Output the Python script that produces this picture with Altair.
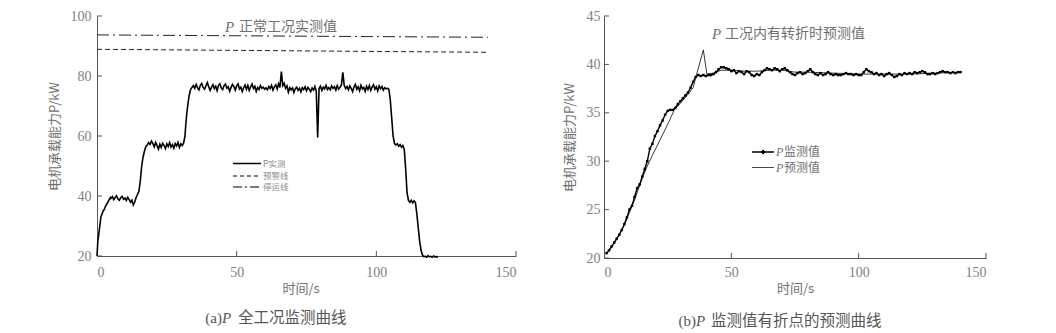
import altair as alt
import pandas as pd

# ---------------- panel (a) data ----------------
a_t_start = [0, 0.3, 0.6, 1.0, 1.4, 1.8, 2.2, 2.6, 3.0, 3.6, 4.2, 4.8]
a_p_start = [20, 25, 27, 30, 33, 34, 35, 35.5, 36.5, 37.5, 38.5, 39.5]
# t = 5.0 .. 13.0 step 0.5
a_p_lvl40 = [39.2, 39.8, 38.8, 39.5, 40.1, 39.0, 38.6, 39.4, 39.9, 38.9,
             39.3, 38.5, 39.6, 38.8, 37.9, 38.6, 37.0]
a_t_up1 = [13.5, 14.0, 14.5, 15.0, 15.5, 16.0, 16.5, 17.0, 17.5, 18.0]
a_p_up1 = [38.0, 39.5, 40.5, 41.5, 45, 50, 53, 55, 56.5, 57.0]
# t = 18.5 .. 31.0 step 0.5
a_p_lvl57 = [57.8, 57.2, 58.3, 57.5, 56.4, 57.9, 56.8, 55.6, 57.3, 56.2,
             57.6, 56.9, 55.8, 57.4, 56.5, 57.8, 56.3, 57.1, 55.9, 57.5,
             56.7, 57.9, 56.2, 57.4, 56.8, 57.6]
a_t_up2 = [31.5, 31.8, 32.2, 32.6, 33.0, 33.5, 34.0]
a_p_up2 = [60, 64, 68, 71, 73.5, 75.5, 76.2]
# t = 34.5 .. 104.0 step 0.5
a_p_lvl76 = [76.8, 75.9, 77.2, 76.1, 75.4, 76.9, 77.5, 76.2, 75.6, 76.7,
             77.8, 76.4, 75.2, 76.3, 77.1, 75.8, 76.6, 75.1, 76.9, 77.4,
             76.0, 75.5, 76.8, 77.3, 75.9, 76.4, 74.9, 76.2, 77.2, 76.5,
             75.3, 76.7, 77.4, 75.7, 76.3, 74.8, 76.1, 77.0, 75.6, 76.9,
             75.2, 76.4, 77.3, 75.8, 76.6, 74.9, 76.2, 75.5, 76.8, 75.9,
             76.3, 75.6, 76.0, 75.4, 76.5, 75.8, 76.9, 75.3, 76.4, 77.1,
             75.7, 77.4, 76.2, 81.5, 76.8, 77.6, 75.9, 76.7, 74.6, 76.1,
             75.4, 76.0, 74.5, 75.8, 76.3, 75.2, 75.9, 74.7, 76.1, 75.5,
             76.4, 75.1, 76.2, 75.6, 74.8, 76.0, 75.3, 76.5, 74.9, 59.5,
             75.8, 76.6, 75.2, 76.3, 75.7, 76.9, 75.5, 76.1, 75.4, 76.7,
             75.9, 76.4, 75.3, 76.8, 75.6, 76.2, 77.0, 81.2, 76.9, 75.8,
             76.5, 75.4, 76.7, 75.9, 74.8, 76.3, 77.2, 75.6, 76.4, 75.1,
             76.9, 75.7, 76.2, 74.9, 76.6, 75.5, 76.8, 75.2, 76.3, 77.1,
             75.6, 76.4, 75.0, 76.7, 75.8, 76.5, 75.3, 76.1, 75.7, 75.9]
# t = 104.5 .. 117.0 step 0.5
a_p_down = [75.5, 72.0, 66.0, 60.0, 57.5, 57.0, 57.4, 56.6, 57.1, 56.3,
            56.8, 55.5, 49.0, 41.0, 38.5, 37.9, 38.6, 37.7, 38.4, 37.8,
            34.0, 29.5, 25.0, 22.0, 20.3, 19.8]
# t = 117.5 .. 122.0 step 0.5
a_p_end = [19.9, 19.6, 20.1, 19.7, 19.9, 19.6, 20.0, 19.7, 19.8, 19.6]

a_line_t = [0, 140]
a_warn_p = [88.9, 87.9]   # 预警线
a_stop_p = [93.7, 92.9]   # 停运线
a_xticks = [50, 100, 150]
a_yticks = [20, 40, 60, 80, 100]

# ---------------- panel (b) data ----------------
b_mon_t = list(range(1, 141))
b_mon_p = [20.5, 20.8, 21.2, 21.6, 22.0, 22.4, 22.9, 23.5, 24.2, 25.0,
           25.4, 26.3, 27.2, 27.6, 28.4, 29.2, 30.0, 31.3, 31.8, 32.6,
           33.1, 33.7, 34.2, 34.8, 35.2, 35.3, 35.3, 35.5, 35.9, 36.2,
           36.5, 36.8, 37.1, 37.6, 38.2, 38.7, 38.9, 38.8, 38.9, 38.8,
           38.9, 38.9, 39.0, 39.2, 39.5, 39.7, 39.7, 39.6, 39.5, 39.3,
           39.4, 39.1, 39.3, 39.2, 39.0, 39.3, 39.2, 38.9, 38.8, 39.0,
           38.9, 39.2, 39.4, 39.6, 39.5, 39.4, 39.6, 39.5, 39.3, 39.5,
           39.6, 39.4, 39.2, 39.0, 38.9, 39.1, 39.2, 39.0, 39.1, 39.3,
           39.5, 39.2, 39.0, 38.9, 39.1, 38.9, 39.0, 39.2, 39.0, 38.9,
           39.0, 38.9, 38.9, 39.0, 39.1, 39.0, 39.0, 38.9, 39.0, 38.9,
           38.9, 39.2, 39.5, 39.3, 39.2, 39.0, 39.1, 38.9, 39.0, 38.8,
           39.0, 39.1, 38.9, 38.7, 38.8, 39.0, 38.9, 39.1, 39.0, 39.1,
           39.0, 39.2, 39.1, 39.2, 39.3, 39.2, 39.0, 39.0, 39.1, 39.0,
           39.1, 39.2, 39.3, 39.2, 39.2, 39.1, 39.2, 39.1, 39.2, 39.2]
b_pred_t = [1, 4, 8, 12, 15, 17, 19, 22, 25, 27.6, 30, 33, 35, 36.4, 39.0,
            40.4, 43, 46, 50, 55, 60, 65, 70, 75, 80, 90, 100, 110, 120, 130, 140]
b_pred_p = [20.4, 21.5, 23.4, 26.0, 28.2, 29.5, 30.6, 32.2, 33.8, 35.3, 36.0,
            36.9, 37.6, 39.0, 41.5, 39.0, 39.1, 39.4, 39.4, 39.3, 39.3, 39.4,
            39.4, 39.2, 39.2, 39.1, 39.0, 39.0, 39.0, 39.1, 39.2]
b_xticks = [50, 100, 150]
b_yticks = [20, 25, 30, 35, 40, 45]


def grid(start, step, vals):
    return [start + step * i for i in range(len(vals))]


a_t = (a_t_start + grid(5.0, 0.5, a_p_lvl40) + a_t_up1 + grid(18.5, 0.5, a_p_lvl57)
       + a_t_up2 + grid(34.5, 0.5, a_p_lvl76) + grid(104.5, 0.5, a_p_down)
       + grid(117.5, 0.5, a_p_end))
a_p = a_p_start + a_p_lvl40 + a_p_up1 + a_p_lvl57 + a_p_up2 + a_p_lvl76 + a_p_down + a_p_end

df_a = pd.DataFrame({"t": a_t, "p": a_p})
df_warn = pd.DataFrame({"t": a_line_t, "p": a_warn_p})
df_stop = pd.DataFrame({"t": a_line_t, "p": a_stop_p})
df_b_mon = pd.DataFrame({"t": b_mon_t, "p": b_mon_p})
df_b_pred = pd.DataFrame({"t": b_pred_t, "p": b_pred_p})

CJK = "Noto Sans CJK SC"
SERIF = "Liberation Serif"
AX = dict(domainColor="#555555", domainWidth=1, labelColor="#808080", labelFont=SERIF,
          labelFontSize=14, ticks=False, tickSize=0, grid=False, titleFont=CJK,
          titleFontSize=13, titleColor="#707070", titleFontWeight="normal")

W1, H1 = 419, 240
W2, H2 = 382, 242


def one(text):
    return pd.DataFrame({"s": [text]})


def label(text, x, y, size, color, font=CJK, style="normal", align="left"):
    return alt.Chart(one(text)).mark_text(
        font=font, fontSize=size, color=color, fontStyle=style, align=align,
        baseline="middle").encode(text="s:N", x=alt.value(x), y=alt.value(y))


def hrule(x1, x2, y, dash, width=1.2, color="black"):
    return alt.Chart(one("r")).mark_rule(color=color, strokeWidth=width, strokeDash=dash).encode(
        x=alt.value(x1), x2=alt.value(x2), y=alt.value(y))


# ---------------- panel (a) ----------------
xa = alt.X("t:Q", scale=alt.Scale(domain=[0, 150], nice=False),
           axis=alt.Axis(values=[0, 50, 100, 150], title="时间/s", labelPadding=9,
                         titlePadding=3, titleX=W1 / 2 - 6, **AX))
ya = alt.Y("p:Q", scale=alt.Scale(domain=[20, 100], nice=False, zero=False),
           axis=alt.Axis(values=a_yticks, title="电机承载能力P/kW", labelPadding=6,
                         titlePadding=8.5, **AX))

a_main = alt.Chart(df_a).mark_line(color="black", strokeWidth=1.6).encode(x=xa, y=ya)
a_warn = alt.Chart(df_warn).mark_line(color="#222", strokeWidth=1, strokeDash=[5, 3]).encode(x=xa, y=ya)
a_stop = alt.Chart(df_stop).mark_line(color="#222", strokeWidth=1, strokeDash=[12, 4, 2, 4]).encode(x=xa, y=ya)
a_yt = alt.Chart(pd.DataFrame({"p": a_yticks})).mark_rule(color="#555").encode(
    y=ya, x=alt.value(0), x2=alt.value(5))
a_xt = alt.Chart(pd.DataFrame({"t": a_xticks})).mark_rule(color="#555").encode(
    x=xa, y=alt.value(H1), y2=alt.value(H1 - 5))

a_texts = [
    label("P", 132.5, 11, 15, "#707070", font=SERIF, style="italic", align="center"),
    label("正常工况实测值", 142, 11, 14, "#707070"),
    hrule(136, 164, 147.5, [1, 0], 1.4),
    hrule(136, 164, 160, [4, 3], 1.1),
    hrule(136, 164, 171, [9, 3, 2, 3], 1.1),
    label("P实测", 166, 147.5, 8.5, "#8a8a8a"),
    label("预警线", 166, 160, 8.5, "#8a8a8a"),
    label("停运线", 166, 171, 8.5, "#8a8a8a"),
    label("(a)", 125, 302, 15, "#555555", font=SERIF, align="right"),
    label("P", 125, 302, 15, "#555555", font=SERIF, style="italic"),
    label("全工况监测曲线", 141, 302, 15.5, "#555555"),
]

left = alt.layer(a_main, a_warn, a_stop, a_yt, a_xt, *a_texts).properties(width=W1, height=H1)

# ---------------- panel (b) ----------------
xb = alt.X("t:Q", scale=alt.Scale(domain=[0, 150], nice=False),
           axis=alt.Axis(values=[0, 50, 100, 150], title="时间/s", labelPadding=7,
                         titlePadding=3, **AX))
yb = alt.Y("p:Q", scale=alt.Scale(domain=[20, 45], nice=False, zero=False),
           axis=alt.Axis(values=b_yticks, title="电机承载能力P/kW", labelPadding=4,
                         titlePadding=10, **AX))

b_pred = alt.Chart(df_b_pred).mark_line(color="#222", strokeWidth=0.9).encode(x=xb, y=yb)
b_mon = alt.Chart(df_b_mon).mark_line(color="black", strokeWidth=1.4).encode(x=xb, y=yb)
b_pts = alt.Chart(df_b_mon).mark_point(shape="square", filled=True, color="black", size=6,
                                       opacity=1).encode(x=xb, y=yb)
b_yt = alt.Chart(pd.DataFrame({"p": b_yticks})).mark_rule(color="#555").encode(
    y=yb, x=alt.value(0), x2=alt.value(5))
b_xt = alt.Chart(pd.DataFrame({"t": b_xticks})).mark_rule(color="#555").encode(
    x=xb, y=alt.value(H2), y2=alt.value(H2 - 5))

b_texts = [
    label("P", 112.5, 18, 15, "#707070", font=SERIF, style="italic", align="center"),
    label("工况内有转折时预测值", 121, 18, 14, "#707070"),
    hrule(148, 170, 136, [1, 0], 1.4),
    alt.Chart(one("m")).mark_point(shape="cross", filled=True, color="black", size=20,
                                   opacity=1).encode(x=alt.value(159), y=alt.value(136)),
    hrule(148, 170, 151.5, [1, 0], 0.9, "#333"),
    label("P", 172, 136, 12, "#707070", font=SERIF, style="italic"),
    label("监测值", 180, 136, 12, "#707070"),
    label("P", 172, 151.5, 12, "#707070", font=SERIF, style="italic"),
    label("预测值", 180, 151.5, 12, "#707070"),
    label("(b)", 92, 305, 15, "#555555", font=SERIF, align="right"),
    label("P", 92, 305, 15, "#555555", font=SERIF, style="italic"),
    label("监测值有折点的预测曲线", 107, 305, 15.5, "#555555"),
]

right = alt.layer(b_pred, b_mon, b_pts, b_yt, b_xt, *b_texts).properties(width=W2, height=H2)

chart = alt.hconcat(left, right, spacing=46).properties(
    padding={"left": 40, "top": 1, "right": 0, "bottom": 0}
).configure_view(strokeWidth=0)

chart.save("out.html", embed_options={"renderer": "svg", "actions": False})
